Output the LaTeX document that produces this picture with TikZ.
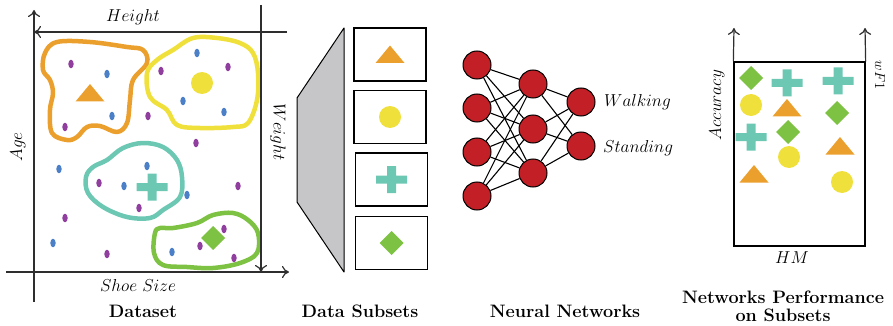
\documentclass[tikz,border=0pt]{standalone}
\usepackage{fontspec}
\usetikzlibrary{arrows.meta}

\definecolor{cOrange}{HTML}{EBA02E}
\definecolor{cYellow}{HTML}{F0E03C}
\definecolor{cTeal}{HTML}{6CC7B3}
\definecolor{cGreen}{HTML}{7EC243}
\definecolor{cBlue}{HTML}{4B80C8}
\definecolor{cPurple}{HTML}{903F9F}
\definecolor{cRed}{HTML}{C22026}
\definecolor{cGray}{HTML}{C6C5C7}
\definecolor{cAxis}{HTML}{2E2E2E}

\tikzset{
  axisline/.style={draw=cAxis, line width=1.2pt, -{Computer Modern Rightarrow[length=7pt,width=12pt,line width=1.2pt]}},
  lbl/.style={font=\fontsize{17.28}{20}\selectfont, inner sep=0pt},
  biglbl/.style={font=\fontsize{19}{22}\selectfont, inner sep=0pt},
  ttl/.style={font=\fontsize{18}{21}\selectfont\bfseries, inner sep=0pt, align=center},
  blob/.style={line width=4.5pt, line join=round},
  subbox/.style={draw=black, line width=1.3pt, minimum width=72pt, minimum height=53pt, inner sep=0pt},
  neuron/.style={circle, draw=black, line width=1pt, fill=cRed, minimum size=28pt, inner sep=0pt},
  link/.style={draw=black, line width=1.1pt},
  perfbox/.style={draw=black, line width=1.3pt},
  tri/.pic={\fill[cOrange] (-14.5,8.5) -- (14.5,8.5) -- (0,-9) -- cycle;},
  disc/.pic={\fill[cYellow] (0,0) circle[radius=11];},
  cross/.pic={\fill[cTeal] (-15.5,-4) rectangle (15.5,4) (-4.5,-13.5) rectangle (4.5,13.5);},
  dia/.pic={\fill[cGreen] (-12,0) -- (0,-12) -- (12,0) -- (0,12) -- cycle;},
}

\begin{document}
\begin{tikzpicture}[x=1pt,y=-1pt]
\useasboundingbox (0,0) rectangle (893,326);

% ---------------- Dataset ----------------
% clusters
\draw[blob, cOrange] plot[smooth cycle, tension=0.6] coordinates {
  (43,70) (50,80) (53,93) (50,110) (52,133) (67,140) (77,137) (87,127)
  (100,126) (117,132) (127,123) (130,100) (133,80) (147,63) (143,50)
  (127,47) (90,42) (57,42) (45,53)};
\draw[blob, cYellow] plot[smooth cycle, tension=0.6] coordinates {
  (147,73) (150,97) (167,110) (177,125) (200,128) (233,127) (248,123)
  (257,100) (258,73) (253,53) (240,43) (217,38) (193,38) (173,50) (157,60)};
\draw[blob, cTeal] plot[smooth cycle, tension=0.6] coordinates {
  (86,177) (88,193) (103,207) (127,217) (150,218) (163,210) (180,197)
  (182,177) (177,160) (163,147) (143,143) (123,148) (107,160) (93,167)};
\draw[blob, cGreen] plot[smooth cycle, tension=0.6] coordinates {
  (155,233) (154,253) (163,265) (187,267) (213,268) (240,263) (257,253)
  (258,233) (248,220) (233,213) (213,215) (197,223) (173,228) (160,228)};

% cluster markers
\pic at (90,93) {tri};
\pic at (202,83) {disc};
\pic at (152,187) {cross};
\pic at (213,238) {dia};

% samples
\foreach \p in {(197,53),(107,74),(112,116),(183,101),(224,112),(59,169),
                (147,166),(124,186),(187,195),(53,243),(172,252)}
  \fill[cBlue] \p ellipse[x radius=2.7, y radius=4.3];
\foreach \p in {(71,64),(161,71),(228,67),(148,116),(65,127),(196,143),
                (99,183),(238,186),(139,208),(65,218),(107,254),(224,229),
                (200,246),(234,258)}
  \fill[cPurple] \p ellipse[x radius=2.7, y radius=4.3];

% axes
\coordinate (ageS) at (34,302);   \coordinate (ageE) at (34,10);
\coordinate (shoeS) at (6,272);   \coordinate (shoeE) at (289,272);
\coordinate (hgtS) at (287,32);   \coordinate (hgtE) at (34,32);
\coordinate (wgtS) at (261,5);    \coordinate (wgtE) at (261,272);
\draw[axisline] (ageS) -- (ageE);
\draw[axisline] (shoeS) -- (shoeE);
\draw[axisline] (hgtS) -- (hgtE);
\draw[axisline] (wgtS) -- (wgtE);

\node[lbl] (hgtL) at (133,17) {$Height$};
\node[lbl] (shoeL) at (138,285) {$Shoe\ Size$};
\node[lbl, rotate=90] (ageL) at (18,147) {$Age$};
\node[lbl, rotate=-90] (wgtL) at (278,132) {$Weight$};
\node[ttl] (tData) at (143,311) {Dataset};

% ---------------- Data subsets ----------------
\draw[fill=cGray, line width=1pt, line join=round]
  (297,98) -- (344,28) -- (344,272) -- (297,202) -- cycle;
\node[subbox] (s1) at (390,54.5) {};
\node[subbox] (s2) at (390,117) {};
\node[subbox] (s3) at (391.5,179.5) {};
\node[subbox] (s4) at (391.5,243) {};
\pic at (s1) {tri};
\pic at (s2) {disc};
\pic at (s3) {cross};
\pic at (s4) {dia};
\node[ttl] (tSub) at (360,311) {Data Subsets};

% ---------------- Neural network ----------------
\node[neuron] (i1) at (477,65) {};
\node[neuron] (i2) at (477,108) {};
\node[neuron] (i3) at (477,152) {};
\node[neuron] (i4) at (477,196) {};
\node[neuron] (h1) at (533,84) {};
\node[neuron] (h2) at (533,129) {};
\node[neuron] (h3) at (533,173) {};
\node[neuron] (o1) at (581,102) {};
\node[neuron] (o2) at (581,146) {};
\foreach \a in {i1,i2,i3,i4}
  \foreach \b in {h1,h2,h3}
    \draw[link] (\a) -- (\b);
\foreach \a in {h1,h2,h3}
  \foreach \b in {o1,o2}
    \draw[link] (\a) -- (\b);
\node[biglbl, anchor=west] (walkL) at (604,102) {$Walking$};
\node[biglbl, anchor=west] (standL) at (603,148) {$Standing$};
\node[ttl] (tNN) at (565,311) {Neural Networks};

% ---------------- Performance ----------------
\node[perfbox, minimum width=131pt, minimum height=184pt, inner sep=0pt] (pb) at (799.5,154) {};
\coordinate (accE) at (734,28);
\coordinate (wfE) at (865,28);
\draw[axisline] (pb.north west) -- (accE);
\draw[axisline] (pb.north east) -- (wfE);
\node[lbl, rotate=90] (accL) at (717,105) {$Accuracy$};
\node[font=\fontsize{14.4}{17}\selectfont, inner sep=0pt, rotate=-90] (wfL) at (880,75) {$wF1$};
\node[lbl] (hmL) at (792,258) {$HM$};

\pic at (751,78) {dia};
\pic at (751,105) {disc};
\pic at (751,137) {cross};
\pic at (754,174) {tri};
\pic at (787,83) {cross};
\pic at (787,108) {tri};
\pic at (788,132) {dia};
\pic at (789,157) {disc};
\pic at (838,81) {cross};
\pic at (837,113) {dia};
\pic at (840,146) {tri};
\pic at (842,182) {disc};

\node[ttl] (tPerf) at (783,306) {Networks Performance\\[-3pt]on Subsets};
\end{tikzpicture}
\end{document}
